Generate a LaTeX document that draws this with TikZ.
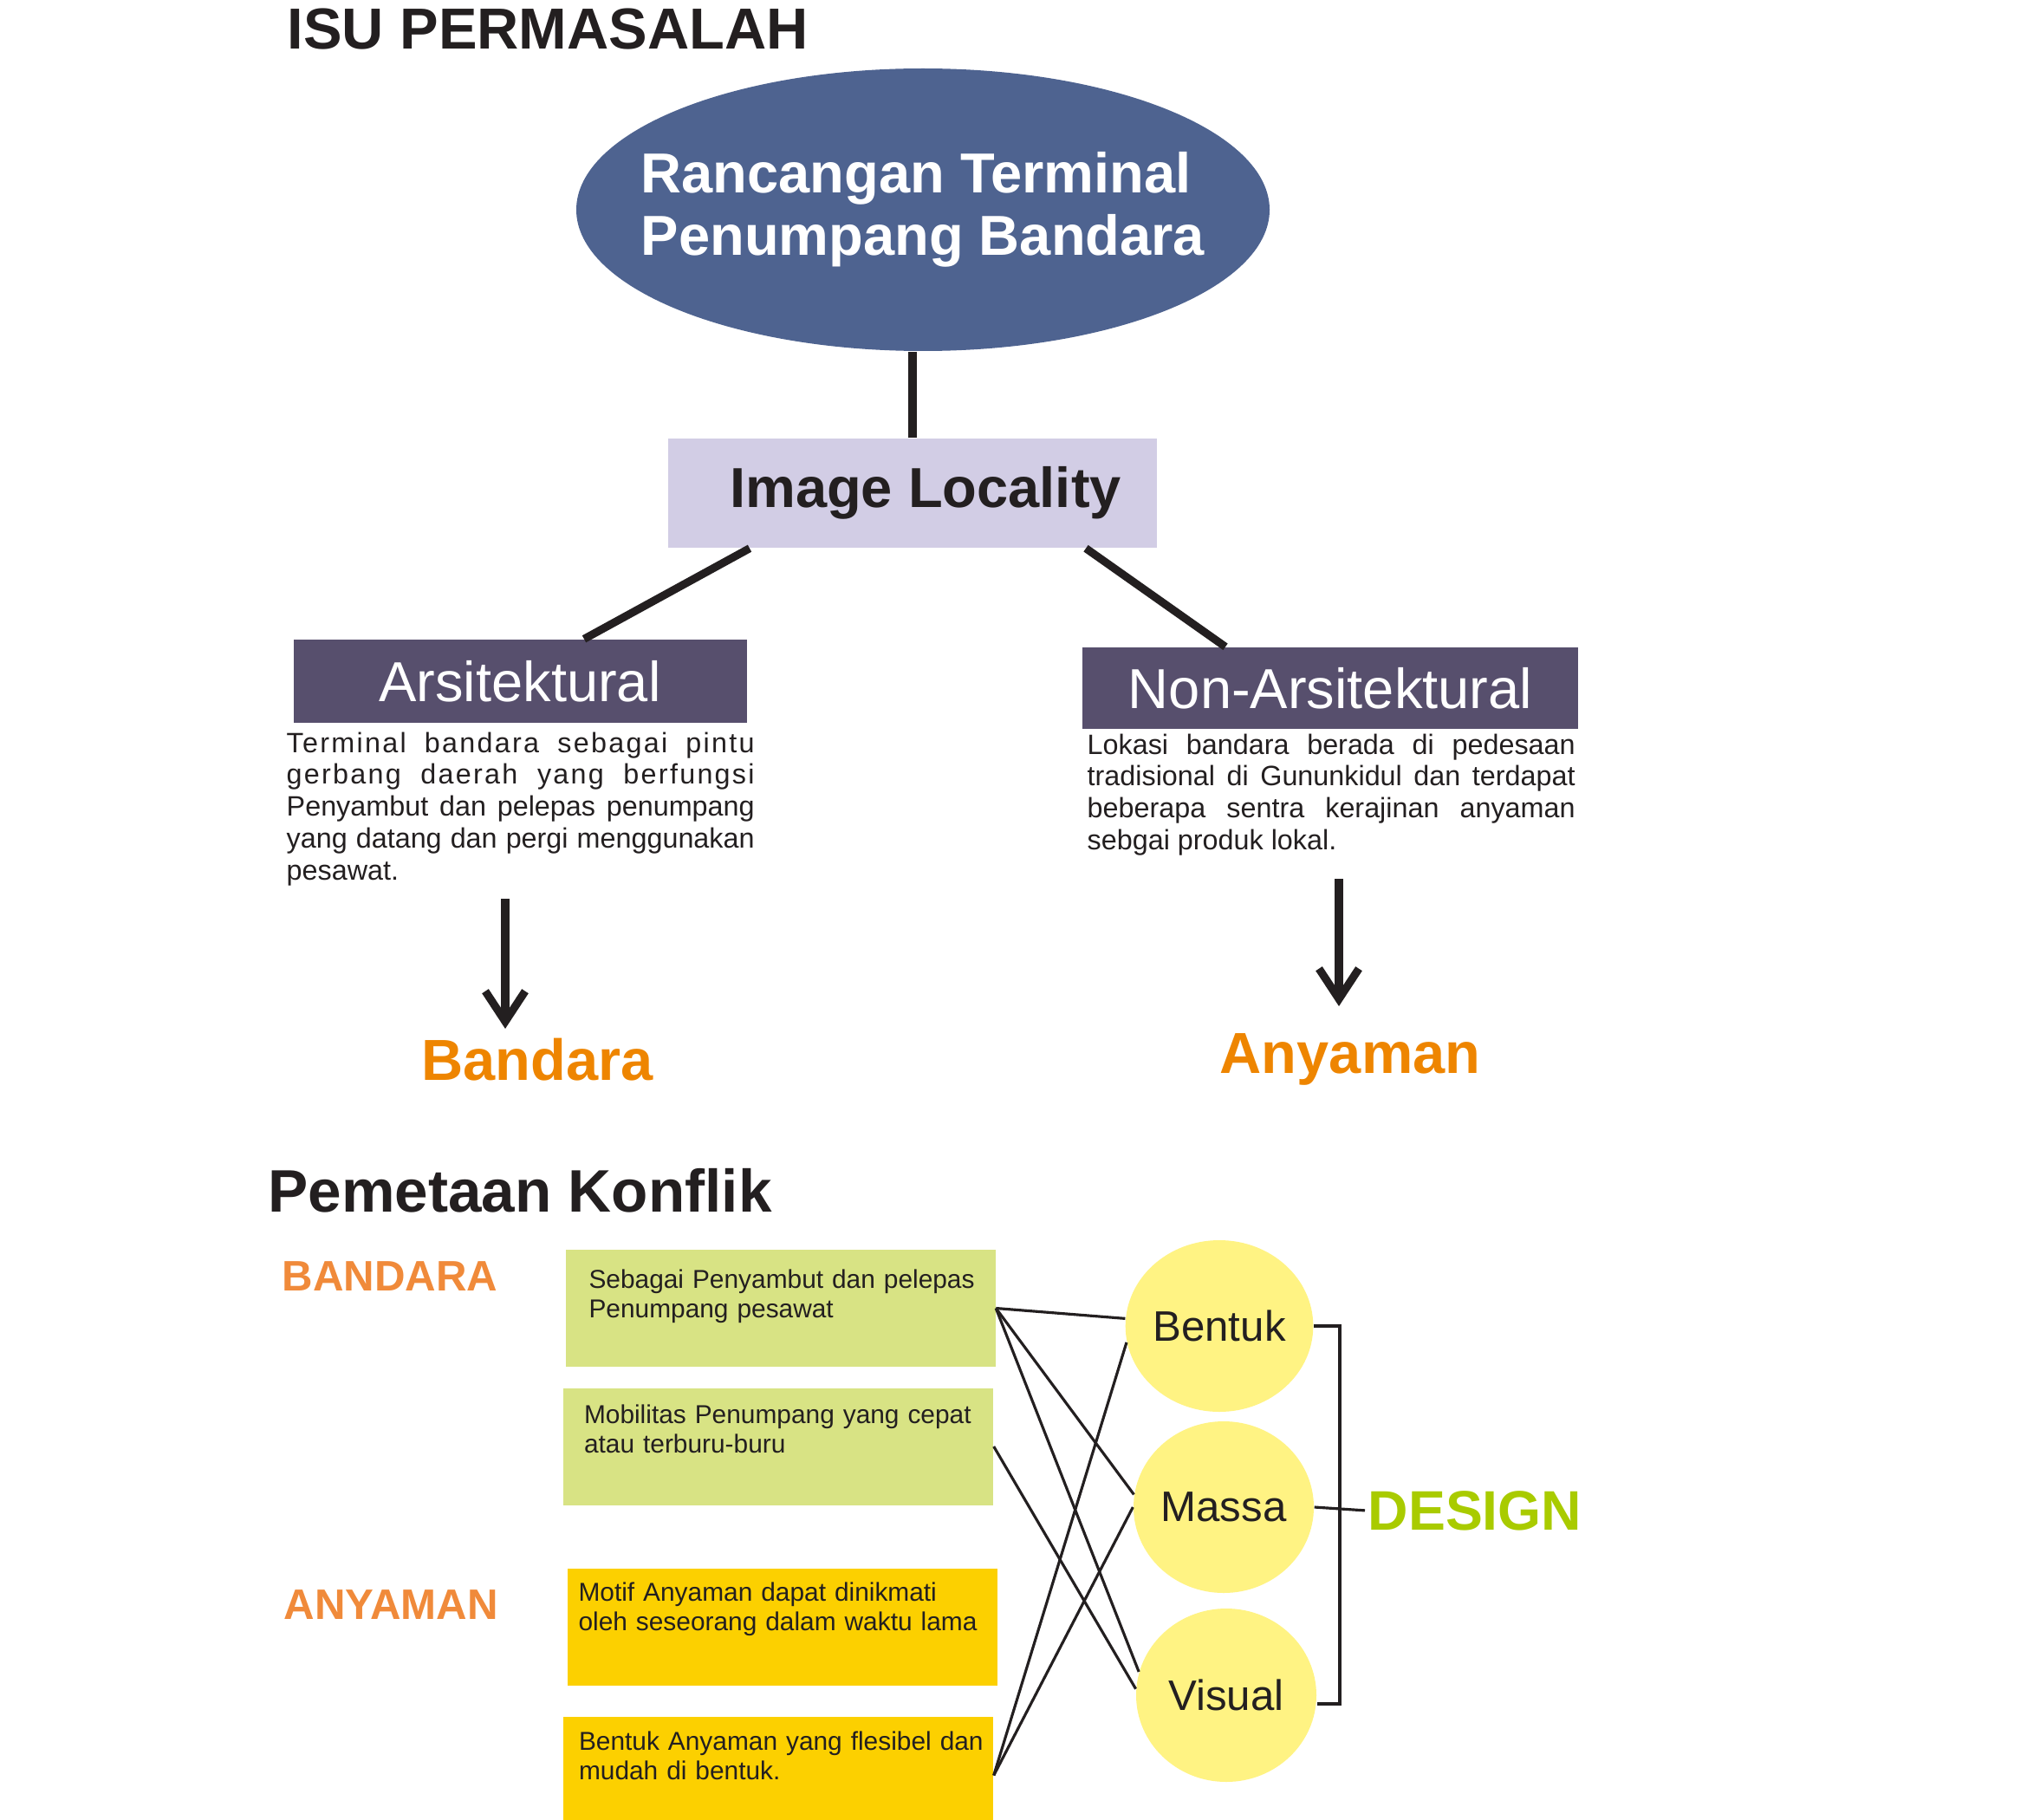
\documentclass[tikz,border=0pt]{standalone}
\usepackage{fontspec}
\setmainfont{Liberation Sans}
\usetikzlibrary{positioning,shapes,arrows.meta}

\definecolor{ellblue}{HTML}{4E6390}
\definecolor{lavender}{HTML}{D2CDE5}
\definecolor{plum}{HTML}{574F6D}
\definecolor{txtdark}{HTML}{231F20}
\definecolor{lime}{HTML}{D8E384}
\definecolor{gold}{HTML}{FCD000}
\definecolor{paleyel}{HTML}{FFF383}
\definecolor{orangeA}{HTML}{EE8500}
\definecolor{orangeB}{HTML}{F08A3A}
\definecolor{designgreen}{HTML}{A9CB00}

\begin{document}
\begin{tikzpicture}[
  heading/.style={inner sep=0,text=txtdark,font=\fontsize{19}{22}\selectfont\bfseries},
  headbox/.style={rectangle,fill=plum,text=white,inner sep=0,font=\fontsize{18.5}{22}\selectfont},
  para/.style={inner sep=0,text=txtdark,align=justify,font=\fontsize{9.2}{10.47}\selectfont},
  hasil/.style={inner sep=0,text=orangeA,font=\fontsize{19}{22}\selectfont\bfseries},
  kategori/.style={inner sep=0,text=orangeB,font=\fontsize{14}{16}\selectfont\bfseries},
  konbox/.style={rectangle,minimum width=4.96cm,minimum height=1.35cm,inner sep=0},
  kontext/.style={inner sep=0,text=txtdark,align=left,text width=4.8cm,font=\fontsize{8.5}{9.65}\selectfont},
  aspek/.style={ellipse,fill=paleyel,minimum width=2.07cm,minimum height=1.98cm,inner sep=0,text=txtdark,font=\fontsize{14}{16}\selectfont},
  heavy/.style={line width=2.6pt,draw=txtdark},
  wire/.style={line width=0.9pt,draw=txtdark},
  down/.style={heavy,-{Straight Barb[length=3.5mm,width=4.6mm]}}
]
  \useasboundingbox (0,0) rectangle (23.39,-20.99);

  % top part
  \node[heading,anchor=base west] (isu) at (3.31,-0.57) {ISU PERMASALAH};

  \node[ellipse,fill=ellblue,minimum width=8cm,minimum height=3.26cm,inner xsep=-0.45cm,inner ysep=0,
    text=white,align=left,font=\fontsize{18.5}{20.5}\selectfont\bfseries] (Rancangan) at (10.65,-2.42)
    {Rancangan Terminal\\Penumpang Bandara};

  \node[rectangle,fill=lavender,minimum width=5.64cm,minimum height=1.26cm,text=txtdark,
    font=\fontsize{18.5}{22}\selectfont\bfseries] (ImgLoc) at (10.53,-5.69) {\hspace*{0.3cm}Image Locality};

  \node[headbox,minimum width=5.23cm,minimum height=0.96cm] (Arsi) at (6.00,-7.86) {Arsitektural};
  \node[headbox,minimum width=5.72cm,minimum height=0.94cm] (NonArsi) at (15.35,-7.94) {Non-Arsitektural};

  \draw[heavy] (ImgLoc.north) -- (ImgLoc.north |- Rancangan.south);
  \draw[heavy] ([xshift=-1.88cm]ImgLoc.south) -- ([xshift=0.74cm]Arsi.north);
  \draw[heavy] ([xshift=2.0cm]ImgLoc.south) -- ([xshift=-1.21cm]NonArsi.north);

  \node[para,text width=5.4cm,anchor=base west] (ketArsi) at (3.30,-8.68)
    {{\addfontfeature{LetterSpace=7}Terminal bandara sebagai pintu}\linebreak
     {\addfontfeature{LetterSpace=7}gerbang daerah yang berfungsi}\linebreak
     Penyambut dan pelepas penumpang\linebreak yang datang dan pergi menggunakan\linebreak pesawat.};
  \node[para,text width=5.63cm,anchor=base west] (ketNon) at (12.54,-8.70)
    {Lokasi bandara berada di pedesaan\linebreak tradisional di Gununkidul dan terdapat\linebreak
     beberapa sentra kerajinan anyaman\linebreak sebgai produk lokal.};

  \node[hasil,anchor=base] (Bandara) at (6.20,-12.46) {Bandara};
  \node[hasil,anchor=base] (Anyaman) at (15.58,-12.38) {Anyaman};

  \coordinate (arrA) at (5.83,-10.37);
  \coordinate (arrAend) at (5.83,-11.87);
  \coordinate (arrB) at (15.45,-10.14);
  \coordinate (arrBend) at (15.45,-11.61);
  \draw[down] (arrA) -- (arrAend);
  \draw[down] (arrB) -- (arrBend);

  % pemetaan konflik
  \node[heading,font=\fontsize{19.7}{22}\selectfont\bfseries,anchor=base west] (pemetaan) at (3.09,-13.98) {Pemetaan Konflik};
  \node[kategori,anchor=base west] (katBandara) at (3.25,-14.89) {BANDARA};
  \node[kategori,anchor=base west] (katAnyaman) at (3.27,-18.68) {ANYAMAN};

  \node[konbox,fill=lime] (kon1) at (9.005,-15.095) {};
  \node[konbox,fill=lime] (kon2) at (8.98,-16.69) {};
  \node[konbox,fill=gold] (kon3) at (9.025,-18.77) {};
  \node[konbox,fill=gold] (kon4) at (8.98,-20.485) {};

  \node[kontext,anchor=base west] (teks1) at ([xshift=0.27cm,yshift=-0.45cm]kon1.north west)
    {Sebagai Penyambut dan pelepas\\Penumpang pesawat};
  \node[kontext,anchor=base west] (teks2) at ([xshift=0.24cm,yshift=-0.42cm]kon2.north west)
    {Mobilitas Penumpang yang cepat\\atau terburu-buru};
  \node[kontext,anchor=base west] (teks3) at ([xshift=0.13cm,yshift=-0.39cm]kon3.north west)
    {Motif Anyaman dapat dinikmati\\oleh seseorang dalam waktu lama};
  \node[kontext,anchor=base west] (teks4) at ([xshift=0.18cm,yshift=-0.39cm]kon4.north west)
    {Bentuk Anyaman yang flesibel dan\\mudah di bentuk.};

  \node[aspek] (Bentuk) at (14.07,-15.30) {Bentuk};
  \node[aspek,minimum width=2.08cm] (Massa) at (14.12,-17.39) {Massa};
  \node[aspek,minimum width=2.08cm,minimum height=2cm] (Visual) at (14.15,-19.56) {Visual};

  \foreach \s/\t in {kon1.east/Bentuk, kon1.east/Massa.172, kon1.east/Visual.165,
    kon2.east/Visual.176, kon4.east/Bentuk.190, kon4.east/Massa.180}
    \draw[wire] (\s) -- (\t);

  \node[inner sep=0,text=designgreen,font=\fontsize{18.3}{22}\selectfont\bfseries,anchor=base west]
    (DESIGN) at (15.78,-17.65) {DESIGN};
  \coordinate (brk) at (15.46,-17.42);
  \draw[wire] (Bentuk.east) -| (brk) |- ([yshift=-1mm]Visual.east);
  \draw[wire] (Massa.east) -- ([xshift=-0.03cm]DESIGN.west);

\end{tikzpicture}
\end{document}
